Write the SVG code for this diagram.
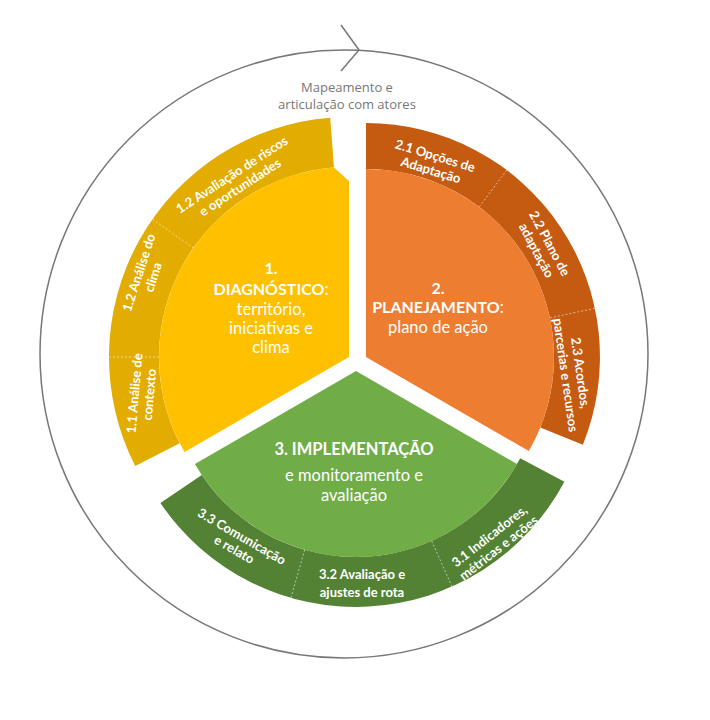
<svg xmlns="http://www.w3.org/2000/svg" width="710" height="720" viewBox="0 0 710 720">
<style>
.main{font-family:Lato,"Open Sans",sans-serif;fill:#fff;text-anchor:middle;font-size:16.5px}
.b{font-weight:bold;font-size:16px}
.lbl{font-family:Lato,"Open Sans",sans-serif;fill:#fff;text-anchor:middle;font-size:13px;font-weight:bold}
.sep{stroke:#fff;stroke-width:0.8;stroke-dasharray:2 2;opacity:0.7}
.top{font-family:"Open Sans",Lato,sans-serif;fill:#777;text-anchor:middle;font-size:13px}
</style>
<rect width="710" height="720" fill="#fff"/>
<g id="cycle">
<circle cx="344" cy="354" r="304" fill="none" stroke="#777" stroke-width="1.5"/>
<polyline points="341,25 359,50 341,71" fill="none" stroke="#777" stroke-width="1.5"/>
<text class="top" x="347" y="92">Mapeamento e</text>
<text class="top" x="347" y="109">articulação com atores</text>
</g>
<g id="diagnostico">
<path d="M330.2,117.7 A240,240 0 0 0 135.2,466 L179.7,443.3 A190,190 0 0 1 334,167.6 Z" fill="#E2AC00"/>
<path d="M349,357 L349,181 L334,167.6 A190,190 0 0 0 184.5,452 Z" fill="#FFC000"/>
<line class="sep" x1="109" y1="357" x2="159" y2="357"/>
<line class="sep" x1="193.4" y1="248" x2="152.4" y2="219.2"/>
<text class="main" x="271" y="274"><tspan class="b">1.</tspan><tspan class="b" x="271" dy="21">DIAGNÓSTICO</tspan>:<tspan x="271" dy="20">território,</tspan><tspan x="271" dy="19">iniciativas e</tspan><tspan x="271" dy="19">clima</tspan></text>
<text class="lbl" transform="translate(236,181) rotate(-33)"><tspan x="0" y="-3">1.2 Avaliação de riscos</tspan><tspan x="0" y="12">e oportunidades</tspan></text>
<text class="lbl" transform="translate(146,275) rotate(-72)"><tspan x="0" y="-3">1.2 Análise do</tspan><tspan x="0" y="12">clima</tspan></text>
<text class="lbl" transform="translate(142,394) rotate(-85)"><tspan x="0" y="-3">1.1 Análise de</tspan><tspan x="0" y="12">contexto</tspan></text>
</g>
<g id="planejamento">
<path d="M366,123 A234,234 0 0 1 582.9,444.7 L540.3,427.4 A188,188 0 0 0 366,169 Z" fill="#C55A11"/>
<path d="M366,357 L366,169 A188,188 0 0 1 528.8,451 Z" fill="#ED7D31"/>
<line class="sep" x1="479.2" y1="206.8" x2="506.9" y2="170"/>
<line class="sep" x1="549.9" y1="317.9" x2="594.9" y2="308.3"/>
<text class="main" x="438" y="294"><tspan class="b">2.</tspan><tspan class="b" x="438" dy="19">PLANEJAMENTO</tspan>:<tspan x="438" dy="20">plano de ação</tspan></text>
<text class="lbl" transform="translate(433,163) rotate(17)"><tspan x="0" y="-3">2.1 Opções de</tspan><tspan x="0" y="12">Adaptação</tspan></text>
<text class="lbl" transform="translate(543,247) rotate(62)"><tspan x="0" y="-3">2.2 Plano de</tspan><tspan x="0" y="12">adaptação</tspan></text>
<text class="lbl" transform="translate(573,374) rotate(82)"><tspan x="0" y="-3">2.3 Acordos,</tspan><tspan x="0" y="12">parcerias e recursos</tspan></text>
</g>
<g id="implementacao">
<path d="M160.4,503 A236,236 0 0 0 564.4,481.7 L520.2,458.3 A186,186 0 0 1 201.8,475 Z" fill="#548235"/>
<path d="M356,371 L194.9,464 A186,186 0 0 0 517.1,464 Z" fill="#70AD47"/>
<line class="sep" x1="304.7" y1="549.8" x2="290.9" y2="597.8"/>
<line class="sep" x1="431.7" y1="541" x2="452" y2="586.7"/>
<text class="main" x="354" y="455" font-size="21.5" font-weight="bold">3. IMPLEMENTAÇÃO</text>
<text class="main" x="354" y="481" font-size="18.5">e monitoramento e</text>
<text class="main" x="354" y="501" font-size="18.5">avaliação</text>
<text class="lbl" transform="translate(238,543) rotate(30)"><tspan x="0" y="-3">3.3 Comunicação</tspan><tspan x="0" y="12">e relato</tspan></text>
<text class="lbl" transform="translate(362,582)"><tspan x="0" y="-3">3.2 Avaliação e</tspan><tspan x="0" y="15">ajustes de rota</tspan></text>
<text class="lbl" transform="translate(494,542) rotate(-38)"><tspan x="0" y="-3">3.1 Indicadores,</tspan><tspan x="0" y="12">métricas e ações</tspan></text>
</g>
</svg>
